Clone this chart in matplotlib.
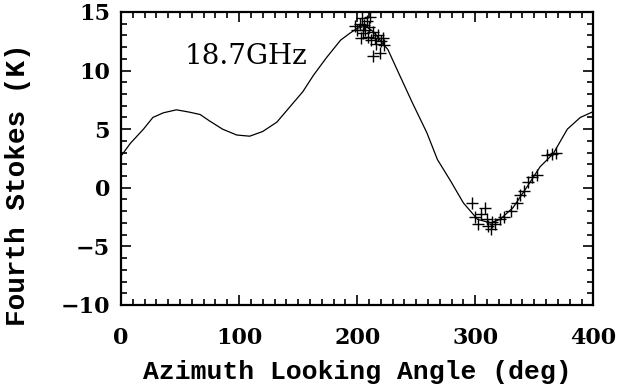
import matplotlib
matplotlib.use("Agg")

import matplotlib.pyplot as plt
from matplotlib.ticker import MultipleLocator

# model curve
curve_az = [0, 8, 19, 27, 36, 47, 58, 67, 75, 86, 98, 109, 120, 132, 143, 154,
            163, 174, 186, 194, 200, 207, 214, 220, 226, 236, 247, 259, 268, 279,
            290, 302, 313, 321, 332, 344, 355, 366, 378, 389, 400]
curve_v = [2.7, 3.8, 5.0, 6.0, 6.4, 6.65, 6.45, 6.25, 5.7, 5.0, 4.5, 4.4, 4.8, 5.6,
           6.9, 8.2, 9.6, 11.1, 12.6, 13.2, 13.6, 13.8, 13.3, 12.5, 11.8, 9.6, 7.2,
           4.7, 2.4, 0.6, -1.3, -2.7, -3.0, -2.7, -1.7, 0.1, 1.8, 2.9, 5.0, 6.0, 6.5]

# measurements
obs_az = [198, 200, 202, 203, 204, 205, 206, 207, 208, 209, 210, 211, 212, 213,
          213, 215, 216, 218, 219, 220, 222, 223,
          297, 300, 302, 305, 308, 310, 311, 313, 314, 317, 321, 324, 330, 335,
          338, 341, 345, 348, 352, 361, 365, 368]
obs_v = [13.8, 13.5, 14.0, 12.8, 14.5, 13.2, 13.9, 13.5, 14.2, 12.9, 13.7, 14.6,
         12.6, 13.3, 11.2, 12.8, 12.3, 13.0, 11.5, 12.5, 12.8, 12.2,
         -1.3, -2.5, -3.1, -2.2, -1.7, -2.7, -3.3, -3.5, -2.9, -3.1, -2.7, -2.5,
         -2.0, -1.3, -0.6, -0.3, 0.5, 0.9, 1.1, 2.8, 2.9, 3.0]

fig = plt.figure(figsize=(6.19, 3.86), dpi=100)
ax = fig.add_axes([0.1955, 0.21, 0.763, 0.759])

ax.plot(curve_az, curve_v, color="black", linewidth=0.9)
ax.plot(obs_az, obs_v, linestyle="none", marker="+", color="black",
        markersize=9, markeredgewidth=1.0)

ax.text(54, 11.2, "18.7GHz", family="DejaVu Serif", fontsize=20, va="center")

ax.set_xlim(0, 400)
ax.set_ylim(-10, 15)
ax.xaxis.set_major_locator(MultipleLocator(100))
ax.xaxis.set_minor_locator(MultipleLocator(10))
ax.yaxis.set_major_locator(MultipleLocator(5))
ax.yaxis.set_minor_locator(MultipleLocator(1))

ax.tick_params(which="both", direction="in", top=True, right=True, width=1.2)
ax.tick_params(which="major", length=7)
ax.tick_params(which="minor", length=4)
ax.tick_params(axis="x", which="major", pad=16)
ax.tick_params(axis="y", which="major", pad=8)
for s in ax.spines.values():
    s.set_linewidth(1.6)

for lab in ax.get_xticklabels() + ax.get_yticklabels():
    lab.set_family("DejaVu Serif")
    lab.set_fontweight("bold")
    lab.set_fontsize(16)

ax.set_xlabel("Azimuth Looking Angle (deg)", family="Liberation Mono",
              fontweight="bold", fontsize=19, labelpad=8)
ax.set_ylabel("Fourth Stokes (K)", family="Liberation Mono",
              fontweight="bold", fontsize=20)
ax.yaxis.set_label_coords(-0.19, 0.41)

plt.savefig("out.png", dpi=100)
